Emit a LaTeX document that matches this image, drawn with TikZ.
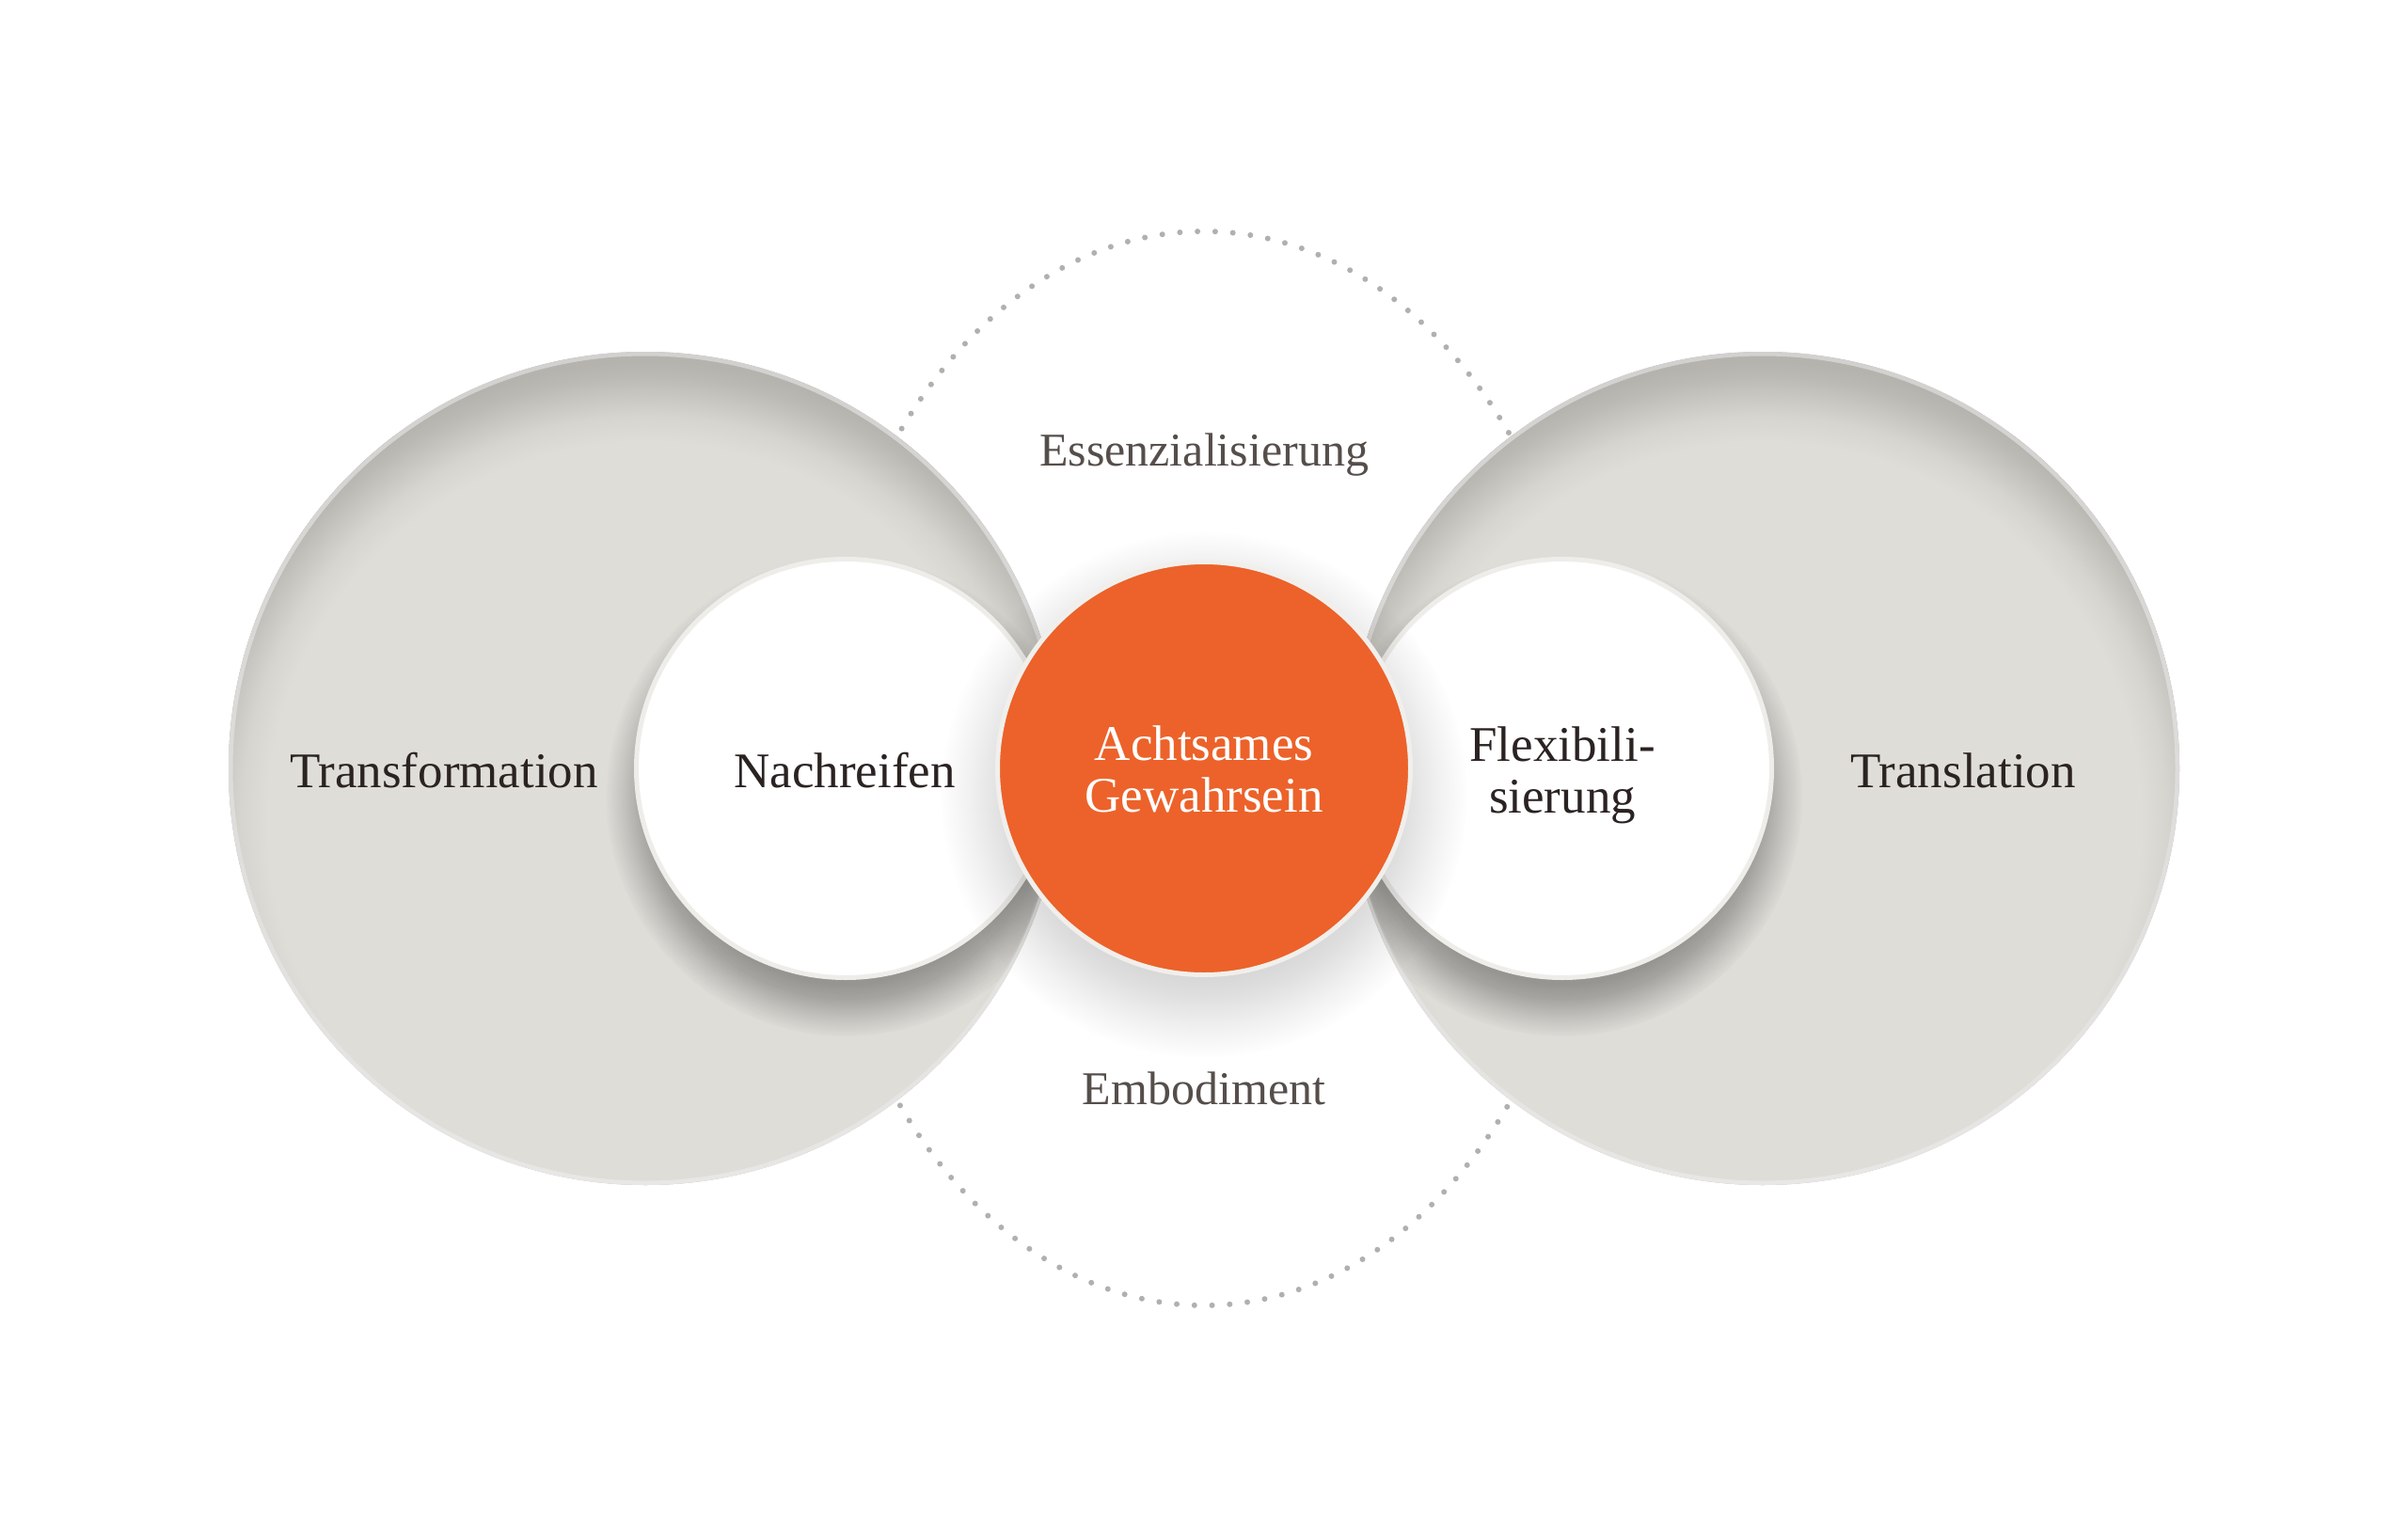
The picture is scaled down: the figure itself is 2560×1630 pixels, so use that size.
\documentclass[tikz,border=0pt]{standalone}
\usepackage{fontspec}
\setmainfont{Liberation Serif}
\usetikzlibrary{fadings}

\definecolor{discfill}{HTML}{DFDDD8}
\definecolor{discdark}{HTML}{B4B3AD}
\definecolor{discrimtop}{HTML}{D2D1CF}
\definecolor{discrimbot}{HTML}{E8E7E5}
\definecolor{ringcol}{HTML}{EFEDEA}
\definecolor{orangefill}{HTML}{EC622A}
\definecolor{orangering}{HTML}{F1EFEC}
\definecolor{dotcol}{HTML}{B2B0AD}
\definecolor{textdark}{HTML}{2A2321}
\definecolor{textgray}{HTML}{554E4B}

% path bounding box corresponds to radius 25bp
\pgfdeclareradialshading{discinner}{\pgfpointorigin}{color(0bp)=(discfill); color(20.6bp)=(discfill); color(22bp)=(discfill!80!discdark); color(23.2bp)=(discfill!45!discdark); color(24.2bp)=(discfill!15!discdark); color(25bp)=(discdark); color(50bp)=(discdark)}

\pgfdeclareradialshading{whshadowshade}{\pgfpointorigin}{color(0bp)=(pgftransparent!0); color(19.5bp)=(pgftransparent!0); color(21bp)=(pgftransparent!20); color(23bp)=(pgftransparent!62); color(25bp)=(pgftransparent!100); color(50bp)=(pgftransparent!100)}
\pgfdeclarefading{whshadow}{\pgfuseshading{whshadowshade}}

\pgfdeclareradialshading{orshadowshade}{\pgfpointorigin}{color(0bp)=(pgftransparent!0); color(16.5bp)=(pgftransparent!0); color(19bp)=(pgftransparent!25); color(22bp)=(pgftransparent!65); color(25bp)=(pgftransparent!100); color(50bp)=(pgftransparent!100)}
\pgfdeclarefading{orshadow}{\pgfuseshading{orshadowshade}}

\tikzset{
  darklabel/.style={anchor=base, inner sep=0pt, text=textdark, font=\fontsize{53}{55}\selectfont},
  graylabel/.style={anchor=base, inner sep=0pt, text=textgray, font=\fontsize{50}{55}\selectfont},
  whitelabel/.style={anchor=base, inner sep=0pt, text=white, font=\fontsize{53}{55}\selectfont},
  dotring/.style={draw=dotcol, line width=6pt, line cap=round, dash pattern=on 0pt off 18.8pt},
  whitedisc/.style={fill=white, draw=ringcol, line width=5pt},
  orangedisc/.style={fill=orangefill, draw=orangering, line width=5pt},
}

\begin{document}
\begin{tikzpicture}[x=1pt,y=-1pt]
\useasboundingbox (0,0) rectangle (2560,1630);
\fill[white] (0,0) rectangle (2560,1630);

% centres
\coordinate (cL) at (686,817);
\coordinate (cR) at (1874,817);
\coordinate (cNach) at (899,817);
\coordinate (cFlex) at (1661,817);
\coordinate (cMid) at (1280,817);

% dotted ellipse
\draw[dotring] (cMid) ellipse [x radius=415, y radius=571];

% big discs with inner shadow
\foreach \cx in {686,1874} {
  \fill[discdark] (\cx,817) circle (443);
  \begin{scope}
    \clip (\cx,817) circle (443);
    \shade[shading=discinner] (\cx,872) circle (488);
  \end{scope}
  \shade[even odd rule, top color=discrimtop, bottom color=discrimbot]
    (\cx,817) circle (443) (\cx,817) circle (438.5);
}

% drop shadows of the white circles, on the discs
\begin{scope}
  \clip (cL) circle (440);
  \fill[black, opacity=0.32, path fading=whshadow] (899,847) circle (255);
\end{scope}
\begin{scope}
  \clip (cR) circle (440);
  \fill[black, opacity=0.32, path fading=whshadow] (1661,847) circle (255);
\end{scope}

% white circles
\path[whitedisc] (cNach) circle (222.5);
\path[whitedisc] (cFlex) circle (222.5);

% orange circle shadow and circle
\fill[black, opacity=0.17, path fading=orshadow] (1280,845) circle (280);
\path[orangedisc] (cMid) circle (219.5);

% labels
\node[darklabel] (transformation) at (472,837) {Transformation};
\node[darklabel] (nachreifen) at (898,837) {Nachreifen};
\node[whitelabel] (achtsam) at (1280,808)
  {\def\arraystretch{1}\begin{tabular}[t]{@{}c@{}}Achtsames\\Gewahrsein\end{tabular}};
\node[darklabel] (flex) at (1661,809)
  {\def\arraystretch{1}\begin{tabular}[t]{@{}c@{}}Flexibili-\\sierung\end{tabular}};
\node[darklabel] (translation) at (2087,837) {Translation};
\node[graylabel] (essenz) at (1280,495) {Essenzialisierung};
\node[graylabel] (embodiment) at (1280,1174) {Embodiment};
\end{tikzpicture}
\end{document}
